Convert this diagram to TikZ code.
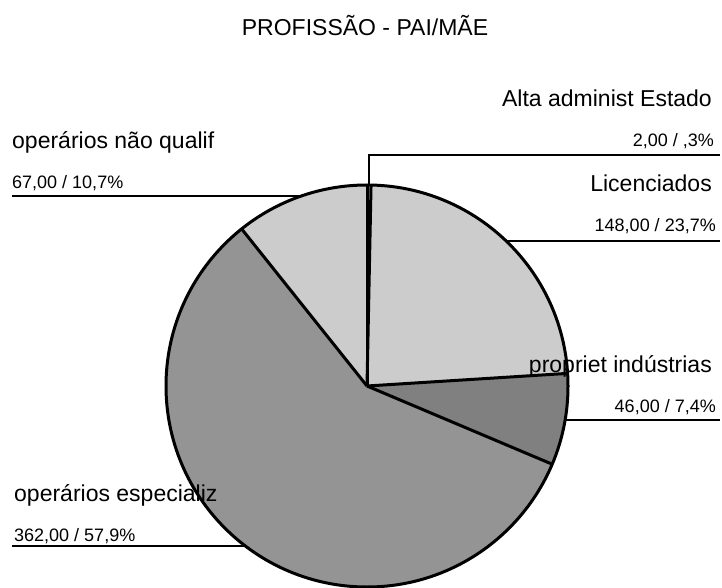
\documentclass[tikz,border=0pt]{standalone}
\usepackage{fontspec}
\setmainfont{Liberation Sans}
\definecolor{slicelight}{gray}{0.80}
\definecolor{slicemid}{gray}{0.58}
\definecolor{slicedark}{gray}{0.50}
\begin{document}
\begin{tikzpicture}[x=1pt,y=1pt,
  biglabel/.style={inner sep=0pt,font=\fontsize{23}{27}\selectfont},
  numlabel/.style={inner sep=0pt,font=\fontsize{18}{21}\selectfont},
  leader/.style={draw=black,line width=1.9pt},
  sep/.style={draw=black,line width=3pt},
  rim/.style={draw=black,line width=3pt}]
\useasboundingbox (0,0) rectangle (722,587);
\coordinate (C) at (367,201);
\def\R{201}
% slices
\fill[slicelight] (C) -- ++(88.848:\R) arc[start angle=88.848,end angle=90,radius=\R] -- cycle;
\fill[slicelight] (C) -- ++(3.6:\R) arc[start angle=3.6,end angle=88.848,radius=\R] -- cycle;
\fill[slicedark] (C) -- ++(-22.896:\R) arc[start angle=-22.896,end angle=3.6,radius=\R] -- cycle;
\fill[slicemid] (C) -- ++(128.592:\R) arc[start angle=128.592,end angle=337.104,radius=\R] -- cycle;
\fill[slicelight] (C) -- ++(90:\R) arc[start angle=90,end angle=128.592,radius=\R] -- cycle;
% separators
\foreach \a in {90,88.848,3.6,-22.896,128.592}{\draw[sep] (C) -- ++(\a:\R);}
\draw[rim] (C) circle[radius=\R];
% leader anchor points
\path (C) ++(89.424:\R) coordinate (pA);
\path (C) ++(46.224:\R) coordinate (pL);
\path (C) ++(-9.648:\R) coordinate (pP);
\path (C) ++(-127.152:\R) coordinate (pE);
\path (C) ++(109.296:\R) coordinate (pN);
\coordinate (kA) at (pA |- 0,432);
\coordinate (eA) at (720,432);
\coordinate (eL) at (720,0 |- pL);
\coordinate (eP) at (720,0 |- pP);
\coordinate (eE) at (12,0 |- pE);
\coordinate (eN) at (12,0 |- pN);
\draw[leader] (pA) -- (kA) -- (eA);
\draw[leader] (pL) -- (eL);
\draw[leader] (pP) -- (eP);
\draw[leader] (pE) -- (eE);
\draw[leader] (pN) -- (eN);
% texts
\node[biglabel,anchor=base] (title) at (365,551) {PROFISSÃO - PAI/MÃE};
\node[biglabel,anchor=base east] (tA) at (712,480) {Alta administ Estado};
\node[numlabel,anchor=base east] (nA) at (714,440) {2,00 / ,3\%};
\node[biglabel,anchor=base east] (tL) at (712,395) {Licenciados};
\node[numlabel,anchor=base east] (nL) at (716,355) {148,00 / 23,7\%};
\node[biglabel,anchor=base east] (tP) at (712,215) {propriet indústrias};
\node[numlabel,anchor=base east] (nP) at (716,175) {46,00 / 7,4\%};
\node[biglabel,anchor=base west] (tN) at (12,438) {operários não qualif};
\node[numlabel,anchor=base west] (nN) at (12,398) {67,00 / 10,7\%};
\node[biglabel,anchor=base west] (tE) at (14,86) {operários especializ};
\node[numlabel,anchor=base west] (nE) at (14,46) {362,00 / 57,9\%};
\end{tikzpicture}
\end{document}
